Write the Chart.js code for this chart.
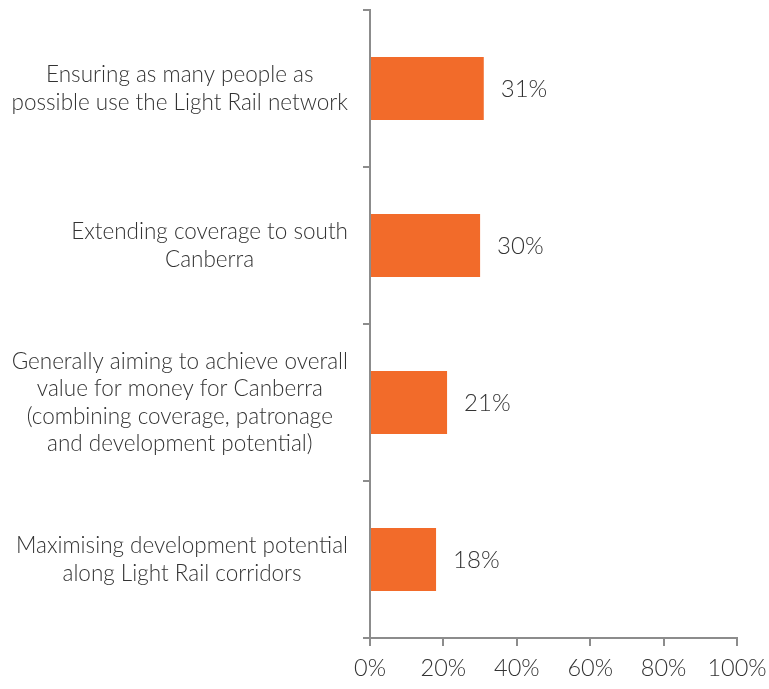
<!DOCTYPE html>
<html>
<head>
<meta charset="utf-8">
<script src="https://cdn.jsdelivr.net/npm/chart.js@4/dist/chart.umd.min.js"></script>
<style>
  html, body { margin: 0; padding: 0; background: #ffffff; }
  #wrap { width: 769px; height: 689px; }
</style>
</head>
<body>
<div id="wrap"><canvas id="c" width="769" height="689"></canvas></div>
<script>
// Survey priorities for the Light Rail network (share of respondents)
const categories = [
  ["Ensuring as many people as", "possible use the Light Rail network"],
  ["Extending coverage to south", "Canberra"],
  ["Generally aiming to achieve overall", "value for money for Canberra", "(combining coverage, patronage", "and development potential)"],
  ["Maximising development potential", "along Light Rail corridors"]
];
const shares = [31, 30, 21, 18];
const xTicks = [0, 20, 40, 60, 80, 100];

const FONT = "Lato, 'Open Sans', sans-serif";
const TEXT = '#333333';
const AXIS = '#8c8c8c';

// Category labels: block right-aligned against the axis, lines centred inside the block
const categoryLabels = {
  id: 'categoryLabels',
  afterDraw(chart) {
    const ctx = chart.ctx;
    const y = chart.scales.y;
    const rightEdge = y.right - 22;
    const lineH = 27.5;
    ctx.save();
    ctx.font = '300 22.5px ' + FONT;
    ctx.fillStyle = TEXT;
    ctx.textAlign = 'center';
    ctx.textBaseline = 'middle';
    categories.forEach((lines, i) => {
      const w = Math.max(...lines.map(l => ctx.measureText(l).width));
      const cx = rightEdge - w / 2;
      const cy = y.getPixelForValue(i);
      const start = cy - (lines.length - 1) * lineH / 2;
      lines.forEach((l, k) => ctx.fillText(l, cx, start + k * lineH));
    });
    ctx.restore();
  }
};

// Value labels to the right of each bar
const valueLabels = {
  id: 'valueLabels',
  afterDatasetsDraw(chart) {
    const ctx = chart.ctx;
    const meta = chart.getDatasetMeta(0);
    ctx.save();
    ctx.font = '300 24px ' + FONT;
    ctx.fillStyle = TEXT;
    ctx.textAlign = 'left';
    ctx.textBaseline = 'middle';
    meta.data.forEach((bar, i) => {
      ctx.fillText(shares[i] + '%', bar.x + 17, bar.y + 1);
    });
    ctx.restore();
  }
};

new Chart(document.getElementById('c'), {
  type: 'bar',
  data: {
    labels: categories,
    datasets: [{
      data: shares,
      backgroundColor: '#f26b2a',
      borderWidth: 0,
      barPercentage: 0.4,
      categoryPercentage: 1.0
    }]
  },
  options: {
    indexAxis: 'y',
    responsive: false,
    animation: false,
    layout: { padding: { top: 10, right: 32, left: 0, bottom: 0 } },
    plugins: { legend: { display: false }, tooltip: { enabled: false } },
    scales: {
      x: {
        min: 0,
        max: 100,
        afterBuildTicks(scale) { scale.ticks = xTicks.map(v => ({ value: v })); },
        afterFit(scale) {
          scale.height = 51;
          scale.paddingLeft = 0;
          scale.paddingRight = 0;
        },
        border: { display: true, color: AXIS, width: 2 },
        grid: { drawOnChartArea: false, drawTicks: true, tickLength: 8, color: AXIS, lineWidth: 2 },
        ticks: {
          padding: 8,
          color: TEXT,
          font: { family: FONT, size: 23.5, weight: '300' },
          callback: v => v + '%'
        }
      },
      y: {
        afterFit(scale) { scale.width = 370; },
        border: { display: true, color: AXIS, width: 2 },
        grid: { offset: true, drawOnChartArea: false, drawTicks: true, tickLength: 7, color: AXIS, lineWidth: 2 },
        ticks: { display: false }
      }
    }
  },
  plugins: [categoryLabels, valueLabels]
});
</script>
</body>
</html>
